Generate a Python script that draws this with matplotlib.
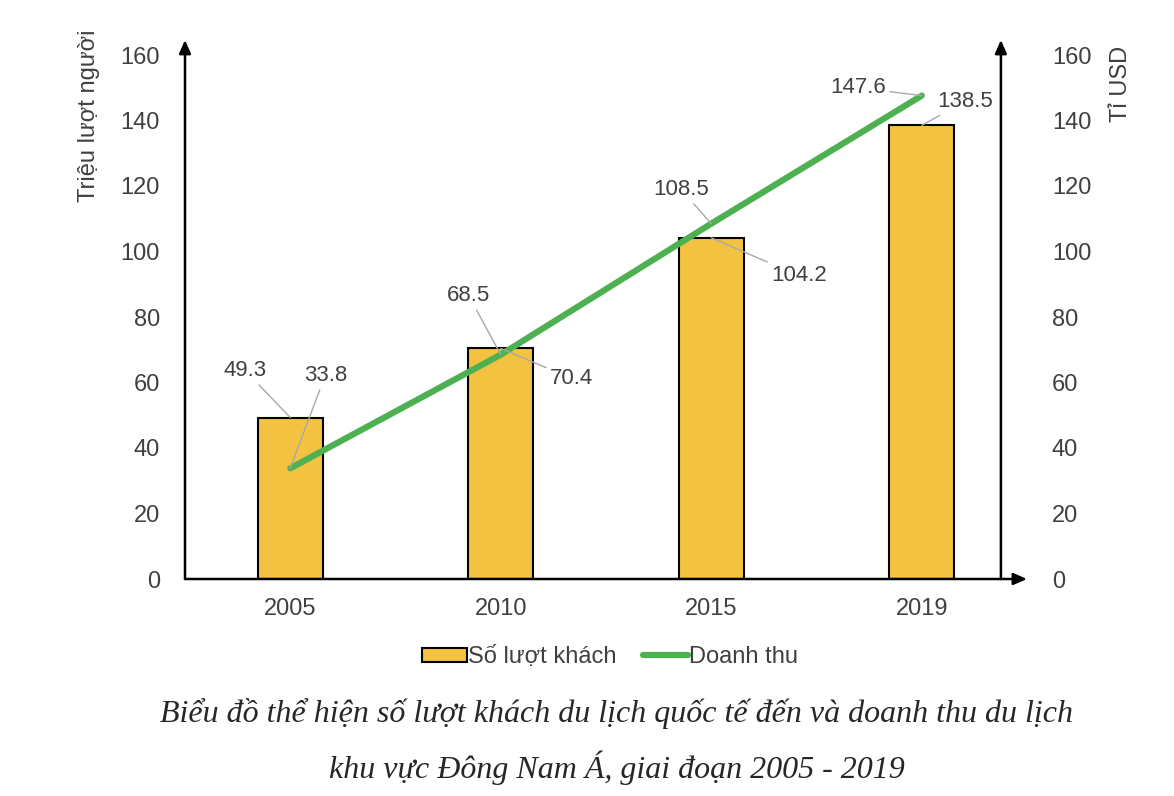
import matplotlib.pyplot as plt
import numpy as np

# data
years = ["2005", "2010", "2015", "2019"]
visitors = [49.3, 70.4, 104.2, 138.5]   # triệu lượt người
revenue = [33.8, 68.5, 108.5, 147.6]    # tỉ USD
yticks = [0, 20, 40, 60, 80, 100, 120, 140, 160]

# label offsets in pixels (bar labels, line labels)
bar_off = [(-45, 47), (71, -30), (88, -38), (43, 24)]
line_off = [(35, 93), (-32, 59), (-30, 34), (-64, 8)]

plt.rcParams['font.family'] = ['Liberation Sans', 'DejaVu Sans']
txt = '#404040'
bar_col = '#F3C240'
line_col = '#4DB151'

fig = plt.figure(figsize=(11.74, 7.96), dpi=100)
ax = fig.add_axes([185 / 1174, 1 - 579 / 796, 842 / 1174, 524 / 796])
x = np.arange(len(years))

bars = ax.bar(x, visitors, width=0.31, color=bar_col, edgecolor='black', linewidth=1.5,
              label='Số lượt khách', zorder=2)
line, = ax.plot(x, revenue, color=line_col, lw=4.5, solid_capstyle='round',
                label='Doanh thu', zorder=3)

ax.set_xlim(-0.5, 3.5)
ax.set_ylim(0, 160)
ax.set_xticks(x)
ax.set_xticklabels(years)
ax.set_yticks(yticks)
for s in ax.spines.values():
    s.set_visible(False)
ax.tick_params(axis='both', length=0, labelsize=17, colors=txt)
ax.tick_params(axis='y', pad=18)
ax.tick_params(axis='x', pad=14)

ax2 = ax.twinx()
ax2.set_ylim(0, 160)
ax2.set_yticks(yticks)
for s in ax2.spines.values():
    s.set_visible(False)
ax2.tick_params(axis='y', length=0, labelsize=17, colors=txt, pad=18)

# axis titles
fig.text(89 / 1174, 1 - 30 / 796, 'Triệu lượt người', rotation=90, ha='center', va='top',
         fontsize=17, color=txt)
fig.text(1121 / 1174, 1 - 46 / 796, 'Tỉ USD', rotation=90, ha='center', va='top',
         fontsize=17, color=txt)

# axis lines with arrows
arrow = dict(arrowstyle='-|>,head_length=0.8,head_width=0.35', color='black', lw=1.8,
             shrinkA=0, shrinkB=0)
ax.annotate('', xy=(-0.5, 164.6), xytext=(-0.5, 0), arrowprops=arrow, annotation_clip=False)
ax.annotate('', xy=(3.376, 164.6), xytext=(3.376, 0), arrowprops=arrow, annotation_clip=False)
ax.annotate('', xy=(3.5, 0), xytext=(-0.5, 0), arrowprops=arrow, annotation_clip=False)

# data labels with gray leader lines
leader = dict(arrowstyle='-', color='#a8a8a8', lw=1, shrinkA=1, shrinkB=0)
for i in range(len(years)):
    ax.annotate(f'{visitors[i]:.1f}', xy=(x[i], visitors[i]), xytext=bar_off[i],
                textcoords='offset pixels', ha='center', va='center', fontsize=16,
                color=txt, arrowprops=leader, zorder=4)
    ax.annotate(f'{revenue[i]:.1f}', xy=(x[i], revenue[i]), xytext=line_off[i],
                textcoords='offset pixels', ha='center', va='center', fontsize=16,
                color=txt, arrowprops=leader, zorder=4)

fig.legend([bars, line], ['Số lượt khách', 'Doanh thu'], loc='center',
           bbox_to_anchor=(610 / 1174, 1 - 657 / 796), ncol=2, frameon=False, fontsize=17,
           labelcolor=txt, handlelength=1.9, handleheight=0.55, handletextpad=0.05,
           columnspacing=1.1)

cap = dict(ha='center', va='center', fontsize=23, style='italic', color='#262626',
           family=['Liberation Serif', 'DejaVu Serif'])
fig.text(617 / 1174, 1 - 713 / 796,
         'Biểu đồ thể hiện số lượt khách du lịch quốc tế đến và doanh thu du lịch', **cap)
fig.text(617 / 1174, 1 - 768 / 796, 'khu vực Đông Nam Á, giai đoạn 2005 - 2019', **cap)

fig.savefig('out.png', dpi=100)
